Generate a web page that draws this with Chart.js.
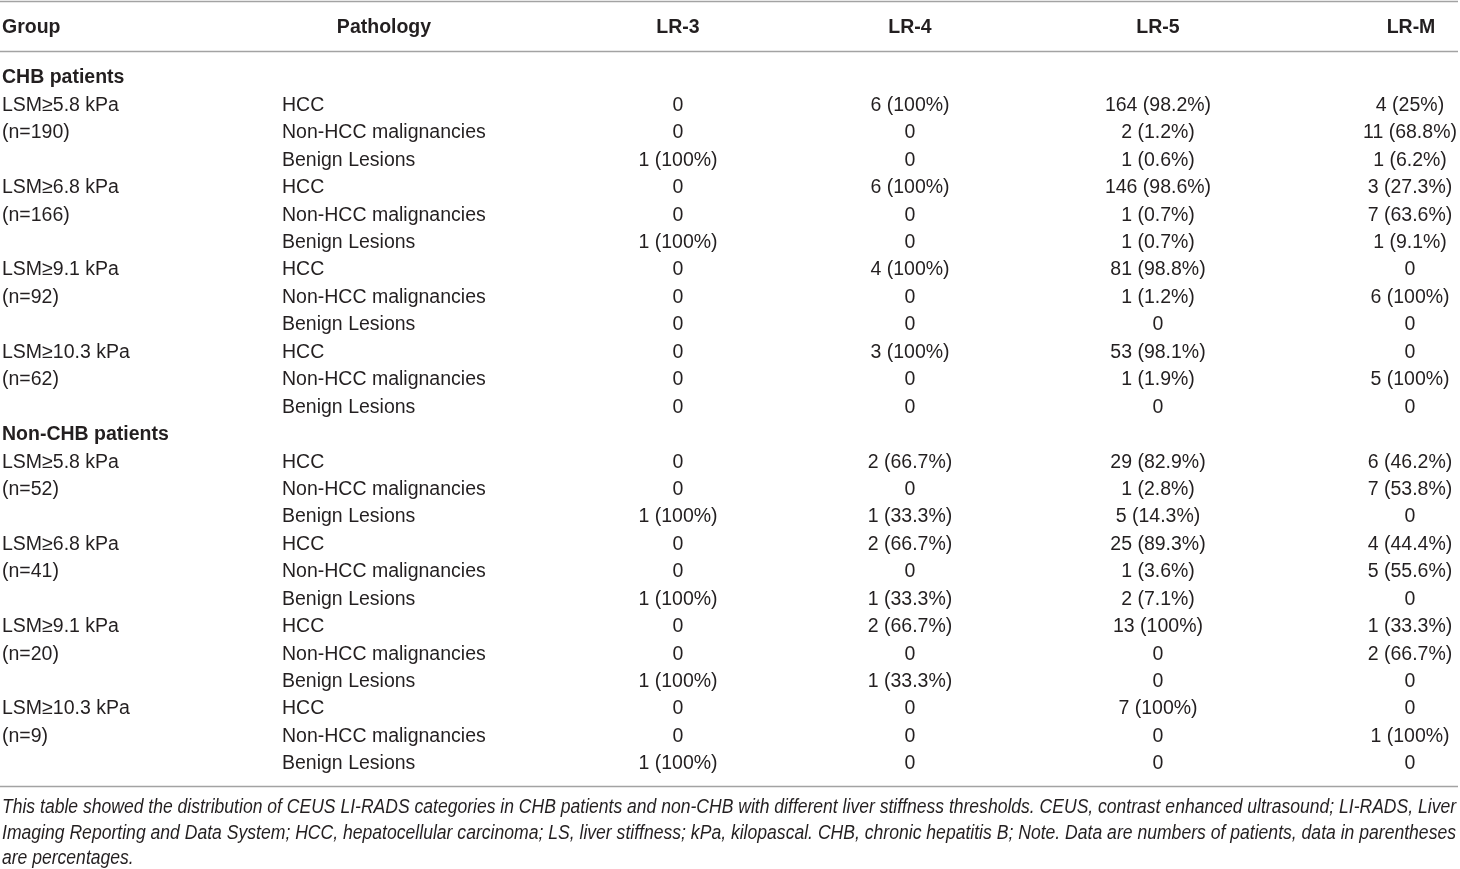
<!DOCTYPE html>
<html>
<head>
<meta charset="utf-8">
<title>CEUS LI-RADS categories by liver stiffness threshold</title>
<script src="https://cdn.jsdelivr.net/npm/chart.js@4.4.1/dist/chart.umd.min.js"></script>
<style>
    html, body { margin: 0; padding: 0; background: #fff; }
    #wrap { width: 1460px; height: 869px; }
</style>
</head>
<body>
<div id="wrap"><canvas id="tbl" width="1460" height="869"></canvas></div>
<script>
// Table data: CEUS LI-RADS categories vs pathology in CHB / non-CHB patients

const columnHeaders = ['Group', 'Pathology', 'LR-3', 'LR-4', 'LR-5', 'LR-M'];
const sections = ['CHB patients', 'Non-CHB patients'];
const thresholds = ['LSM≥5.8 kPa', 'LSM≥6.8 kPa', 'LSM≥9.1 kPa', 'LSM≥10.3 kPa'];
const groupSizes = [[190, 166, 92, 62], [52, 41, 20, 9]];
const pathologies = ['HCC', 'Non-HCC malignancies', 'Benign Lesions'];

// 24 rows each: CHB (4 thresholds x 3 pathologies), then non-CHB
const lr3Count = [0, 0, 1, 0, 0, 1, 0, 0, 0, 0, 0, 0,
                  0, 0, 1, 0, 0, 1, 0, 0, 1, 0, 0, 1];
const lr3Pct = [null, null, 100, null, null, 100, null, null, null, null, null, null,
                null, null, 100, null, null, 100, null, null, 100, null, null, 100];
const lr4Count = [6, 0, 0, 6, 0, 0, 4, 0, 0, 3, 0, 0,
                  2, 0, 1, 2, 0, 1, 2, 0, 1, 0, 0, 0];
const lr4Pct = [100, null, null, 100, null, null, 100, null, null, 100, null, null,
                66.7, null, 33.3, 66.7, null, 33.3, 66.7, null, 33.3, null, null, null];
const lr5Count = [164, 2, 1, 146, 1, 1, 81, 1, 0, 53, 1, 0,
                  29, 1, 5, 25, 1, 2, 13, 0, 0, 7, 0, 0];
const lr5Pct = [98.2, 1.2, 0.6, 98.6, 0.7, 0.7, 98.8, 1.2, null, 98.1, 1.9, null,
                82.9, 2.8, 14.3, 89.3, 3.6, 7.1, 100, null, null, 100, null, null];
const lrMCount = [4, 11, 1, 3, 7, 1, 0, 6, 0, 0, 5, 0,
                  6, 7, 0, 4, 5, 0, 1, 2, 0, 0, 1, 0];
const lrMPct = [25, 68.8, 6.2, 27.3, 63.6, 9.1, null, 100, null, null, 100, null,
                46.2, 53.8, null, 44.4, 55.6, null, 33.3, 66.7, null, null, 100, null];

const footnoteLines = [
    'This table showed the distribution of CEUS LI-RADS categories in CHB patients and non-CHB with different liver stiffness thresholds. CEUS, contrast enhanced ultrasound; LI-RADS, Liver',
    'Imaging Reporting and Data System; HCC, hepatocellular carcinoma; LS, liver stiffness; kPa, kilopascal. CHB, chronic hepatitis B; Note. Data are numbers of patients, data in parentheses',
    'are percentages.'
];

// ---- layout (kept apart from the data) ----
const INK = '#231f20';
const RULE = '#a3a3a3';
const FONT = '"Liberation Sans", Arial, sans-serif';
const SIZE = 19.5;
const TEXT_DY = 2;         // nudge: canvas 'middle' sits a bit high
const ROW_H = 27.44;       // px per table row
const FIRST_ROW_Y = 76;    // px of row 0
const colX = [2, 282, 678, 910, 1158, 1410];
const headerX = [2, 384, 678, 910, 1158, 1411];
const HEADER_ROW = -1.82;
const ruleRows = [-2.72, -0.91, 25.87];
const footRows = [26.57, 27.52, 28.46];
const FOOT_WIDTH = 1454;

function cellText(count, pct) {
    return pct === null ? String(count) : count + ' (' + pct + '%)';
}

// build one point per text cell, row index on y, column anchor on x
function buildCells() {
    const cells = [];
    columnHeaders.forEach((h, i) => {
        cells.push({ x: headerX[i], y: HEADER_ROW, text: h, align: i === 0 ? 'left' : 'center', bold: true });
    });
    const counts = [lr3Count, lr4Count, lr5Count, lrMCount];
    const pcts = [lr3Pct, lr4Pct, lr5Pct, lrMPct];
    let row = 0;
    let k = 0;
    sections.forEach((sec, s) => {
        cells.push({ x: colX[0], y: row, text: sec, align: 'left', bold: true });
        row++;
        thresholds.forEach((t, ti) => {
            pathologies.forEach((p, pi) => {
                if (pi === 0) cells.push({ x: colX[0], y: row, text: t, align: 'left' });
                if (pi === 1) cells.push({ x: colX[0], y: row, text: '(n=' + groupSizes[s][ti] + ')', align: 'left' });
                cells.push({ x: colX[1], y: row, text: p, align: 'left' });
                for (let c = 0; c < 4; c++) {
                    cells.push({ x: colX[c + 2], y: row, text: cellText(counts[c][k], pcts[c][k]), align: 'center' });
                }
                row++;
                k++;
            });
        });
    });
    return cells;
}

const footCells = footnoteLines.map((line, i) => ({ x: colX[0], y: footRows[i], text: line }));

const tablePlugin = {
    id: 'tablePlugin',
    beforeDatasetsDraw(chart) {
        const ctx = chart.ctx;
        const y = chart.scales.y;
        const area = chart.chartArea;
        ctx.save();
        ctx.strokeStyle = RULE;
        ctx.lineWidth = 1.6;
        ruleRows.forEach(r => {
            const py = Math.round(y.getPixelForValue(r)) + 0.5;
            ctx.beginPath();
            ctx.moveTo(area.left, py);
            ctx.lineTo(area.right - 2, py);
            ctx.stroke();
        });
        ctx.restore();
    },
    afterDatasetsDraw(chart) {
        const ctx = chart.ctx;
        ctx.save();
        ctx.fillStyle = INK;
        ctx.textBaseline = 'middle';

        const cellMeta = chart.getDatasetMeta(0);
        const cellData = chart.data.datasets[0].data;
        cellMeta.data.forEach((pt, i) => {
            const d = cellData[i];
            ctx.font = (d.bold ? 'bold ' : '') + SIZE + 'px ' + FONT;
            ctx.textAlign = d.align;
            ctx.fillText(d.text, pt.x, pt.y + TEXT_DY);
        });

        // footnote: condensed italic, justified to the table width
        const footMeta = chart.getDatasetMeta(1);
        const footData = chart.data.datasets[1].data;
        ctx.font = 'italic ' + SIZE + 'px ' + FONT;
        ctx.textAlign = 'left';
        const firstScale = FOOT_WIDTH / ctx.measureText(footData[0].text).width;
        footMeta.data.forEach((pt, i) => {
            const text = footData[i].text;
            const w = ctx.measureText(text).width;
            const sx = i < footData.length - 1 ? FOOT_WIDTH / w : firstScale;
            ctx.save();
            ctx.translate(pt.x, pt.y + TEXT_DY);
            ctx.scale(sx, 1);
            ctx.fillText(text, 0, 0);
            ctx.restore();
        });
        ctx.restore();
    }
};

const yMin = -FIRST_ROW_Y / ROW_H;
const yMax = (869 - FIRST_ROW_Y) / ROW_H;

new Chart(document.getElementById('tbl'), {
    type: 'scatter',
    data: {
        datasets: [
            { label: 'cells', data: buildCells(), pointRadius: 0, pointHoverRadius: 0 },
            { label: 'footnote', data: footCells, pointRadius: 0, pointHoverRadius: 0 }
        ]
    },
    options: {
        responsive: false,
        animation: false,
        devicePixelRatio: 1,
        layout: { padding: 0 },
        events: [],
        plugins: {
            legend: { display: false },
            tooltip: { enabled: false }
        },
        scales: {
            x: { type: 'linear', min: 0, max: 1460, display: false },
            y: { type: 'linear', min: yMin, max: yMax, reverse: true, display: false }
        }
    },
    plugins: [tablePlugin]
});
</script>
</body>
</html>
